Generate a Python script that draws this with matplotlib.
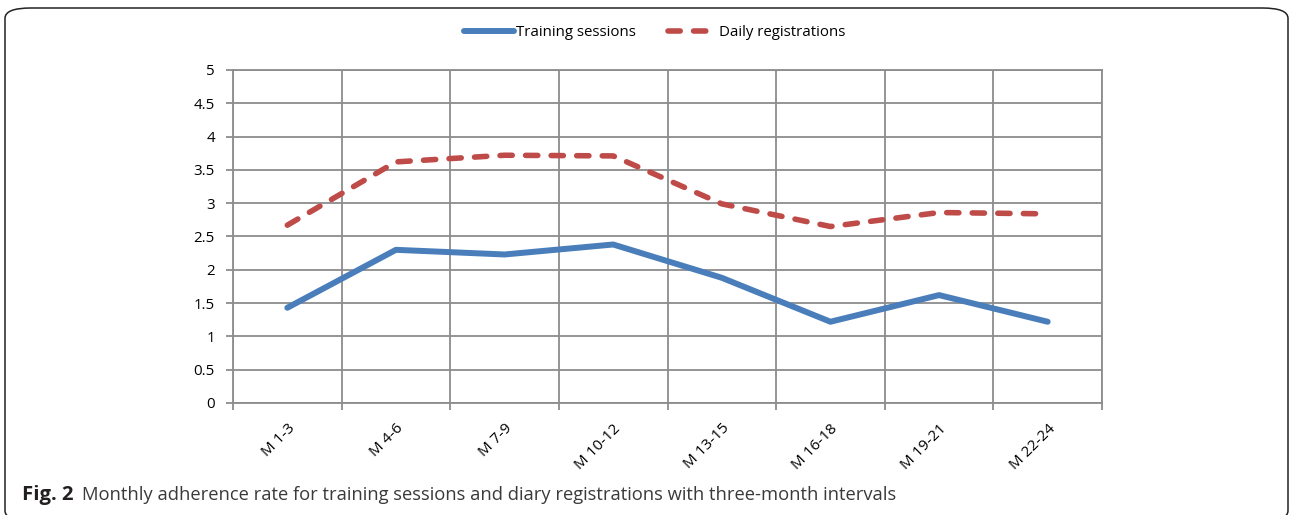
import numpy as np
import matplotlib.pyplot as plt
from matplotlib.patches import FancyBboxPatch

# data
categories = ['M 1-3', 'M 4-6', 'M 7-9', 'M 10-12', 'M 13-15', 'M 16-18', 'M 19-21', 'M 22-24']
training = [1.43, 2.30, 2.23, 2.38, 1.88, 1.22, 1.62, 1.22]
daily = [2.67, 3.62, 3.72, 3.71, 2.99, 2.65, 2.86, 2.84]
yticks = [0, 0.5, 1, 1.5, 2, 2.5, 3, 3.5, 4, 4.5, 5]

plt.rcParams['font.family'] = ['Open Sans', 'DejaVu Sans']

W, H = 1292, 515
fig = plt.figure(figsize=(W / 100, H / 100), dpi=100)

# rounded frame around the figure
frame = FancyBboxPatch((5 / W, -6 / H), 1283 / W, 513 / H,
                       boxstyle='round,pad=0,rounding_size=0.02',
                       transform=fig.transFigure, fill=False,
                       edgecolor='#222222', linewidth=1.1, clip_on=False)
fig.patches.append(frame)

ax = fig.add_axes([233 / W, 1 - 403 / H, (1102 - 233) / W, (403 - 70) / H])
x = np.arange(len(categories))

grid_c = '#8c8c8c'
ax.plot(x, training, color='#4a7ebb', lw=4.3, solid_capstyle='round',
        solid_joinstyle='round', label='Training sessions', zorder=3)
ax.plot(x, daily, color='#be4b48', lw=4.0, dashes=(2.2, 2.4),
        dash_capstyle='round', label='Daily registrations', zorder=3)

ax.set_xlim(-0.5, len(categories) - 0.5)
ax.set_ylim(0, 5)
ax.set_yticks(yticks)
ax.set_yticklabels([f'{v:g}' for v in yticks], fontsize=10.8)
ax.set_xticks(x)
ax.set_xticklabels(categories, rotation=45, ha='right', rotation_mode='anchor',
                   fontsize=11)
ax.set_xticks(np.arange(-0.5, len(categories)), minor=True)
ax.tick_params(axis='x', which='major', length=0, pad=13)
ax.tick_params(axis='x', which='minor', length=5, color=grid_c, width=1.3)
ax.tick_params(axis='y', length=5, color=grid_c, width=1.3, pad=8)

ax.grid(axis='y', which='major', color=grid_c, lw=1.3)
ax.grid(axis='x', which='minor', color=grid_c, lw=1.3)
ax.set_axisbelow(True)
for s in ax.spines.values():
    s.set_color(grid_c)
    s.set_linewidth(1.3)

fig.legend(loc='center', bbox_to_anchor=(655 / W, 1 - 33 / H), ncol=2,
           frameon=False, fontsize=10.8, handlelength=3.3, handletextpad=0.15,
           columnspacing=2.1)

fig.text(22 / W, 1 - 500 / H, 'Fig. 2', fontsize=14.6, fontweight='bold',
         color='#231f20', va='baseline')
fig.text(82 / W, 1 - 500 / H,
         'Monthly adherence rate for training sessions and diary registrations with three-month intervals',
         fontsize=13.2, color='#3a3a3a', va='baseline')

fig.savefig('out.png', dpi=100)
